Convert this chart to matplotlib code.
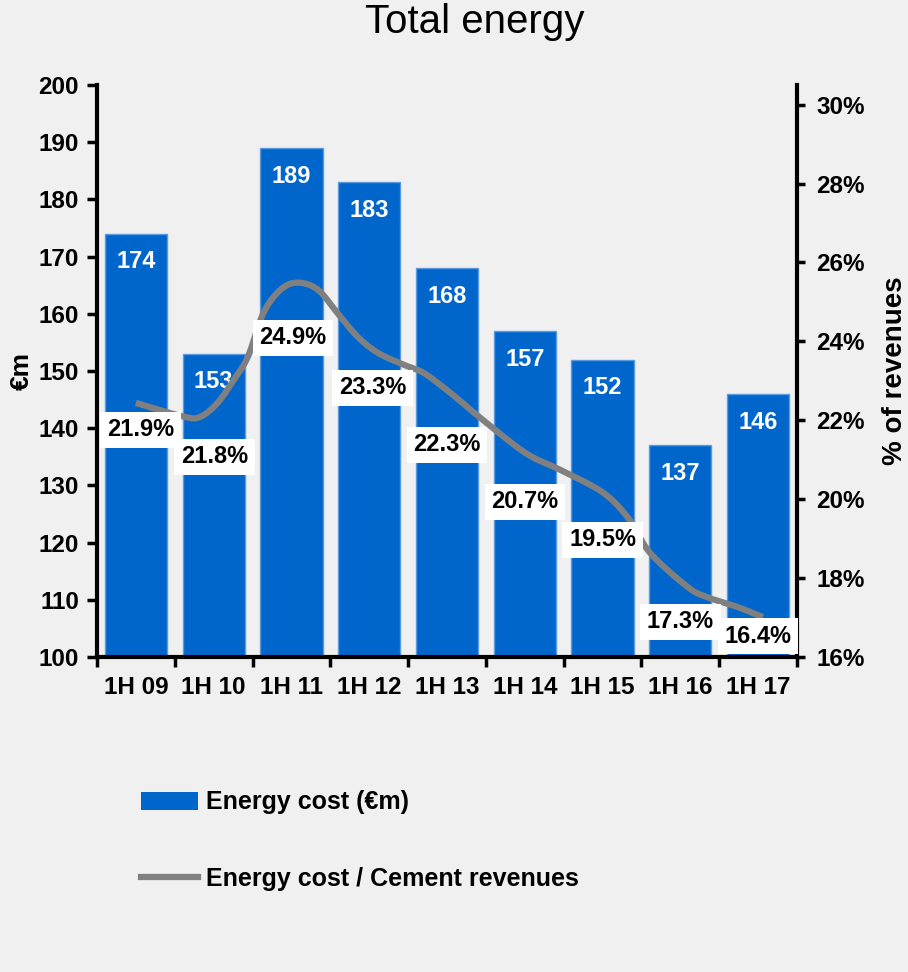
import numpy as np
import matplotlib.pyplot as plt
from matplotlib.patches import Patch
from matplotlib.lines import Line2D

plt.rcParams['font.family'] = ['Liberation Sans', 'DejaVu Sans']

# data
periods = ["1H 09", "1H 10", "1H 11", "1H 12", "1H 13", "1H 14", "1H 15", "1H 16", "1H 17"]
energy_cost = [174, 153, 189, 183, 168, 157, 152, 137, 146]
ratio_labels = ["21.9%", "21.8%", "24.9%", "23.3%", "22.3%", "20.7%", "19.5%", "17.3%", "16.4%"]

# smoothed ratio line (category position, % of revenues)
line_pos = [0.0, 0.62, 0.83, 1.05, 1.26, 1.44, 1.64, 1.86, 2.08, 2.34, 2.59, 2.85, 3.11,
            3.44, 3.70, 4.04, 4.43, 5.01, 5.46, 6.01, 6.35, 6.61, 7.09, 7.34, 7.73, 8.06]
line_pct = [22.44, 22.09, 22.09, 22.44, 23.03, 23.61, 24.72, 25.31, 25.49, 25.31, 24.72, 24.12, 23.71,
            23.41, 23.20, 22.70, 22.06, 21.17, 20.74, 20.16, 19.47, 18.64, 17.78, 17.52, 17.27, 17.01]

# where the ratio labels sit (layout only)
label_x = [0.06, 1.01, 2.02, 3.04, 4.0, 5.0, 6.0, 7.0, 8.0]
label_y = [21.76, 21.07, 24.09, 22.82, 21.38, 19.93, 18.97, 16.89, 16.53]

BLUE = "#0066CC"
GREY = "#808080"
BG = "#F0F0F0"


def catmull_rom(x, y, n=20):
    p = np.column_stack([x, y])
    p = np.vstack([p[0], p, p[-1]])
    out = []
    t = np.linspace(0, 1, n, endpoint=False)[:, None]
    for i in range(1, len(p) - 2):
        p0, p1, p2, p3 = p[i - 1], p[i], p[i + 1], p[i + 2]
        out.append(0.5 * (2 * p1 + (-p0 + p2) * t + (2 * p0 - 5 * p1 + 4 * p2 - p3) * t ** 2
                          + (-p0 + 3 * p1 - 3 * p2 + p3) * t ** 3))
    out.append(p[-2][None])
    s = np.vstack(out)
    return s[:, 0], s[:, 1]


fig = plt.figure(figsize=(9.08, 9.72), dpi=100, facecolor=BG)
ax = fig.add_axes([0.1068, 0.3241, 0.771, 0.5885])
ax.set_facecolor(BG)

x = np.arange(len(periods))
ax.bar(x, energy_cost, width=0.8, color=BLUE, edgecolor="#5B9BE0", linewidth=1.0, zorder=2)
for xi, v in zip(x, energy_cost):
    ax.annotate(str(v), (xi, v), xytext=(0, -12), textcoords="offset points",
                ha="center", va="top", color="white", fontsize=17, fontweight="bold", zorder=3)

ax.set_xlim(-0.5, len(periods) - 0.5)
ax.set_ylim(100, 200)
ax.set_yticks(np.arange(100, 201, 10))
ax.set_xticks(np.arange(-0.5, len(periods), 1))
ax.set_xticklabels([])
ax.set_xticks(x, minor=True)
ax.set_xticklabels(periods, minor=True)
ax.tick_params(axis="x", which="minor", length=0, pad=14, labelsize=17.5)
ax.tick_params(axis="x", which="major", length=7, width=2.5, direction="out")
ax.tick_params(axis="y", length=7, width=2.5, direction="out", labelsize=17.5, pad=6)
for lab in ax.get_xticklabels(minor=True) + ax.get_yticklabels():
    lab.set_fontweight("bold")
ax.set_ylabel("€m", fontsize=19, fontweight="bold", labelpad=0)
ax.yaxis.set_label_coords(-0.09, 0.5)
for side in ["top", "right"]:
    ax.spines[side].set_visible(False)
for side in ["left", "bottom"]:
    ax.spines[side].set_linewidth(3)

ax2 = ax.twinx()
ax2.set_ylim(16, 30.5)
ax2.set_yticks(np.arange(16, 31, 2))
ax2.set_yticklabels([f"{v}%" for v in range(16, 31, 2)])
ax2.tick_params(axis="y", length=6, width=2.5, direction="out", labelsize=17.5, pad=8)
for lab in ax2.get_yticklabels():
    lab.set_fontweight("bold")
for side in ["top", "left", "bottom"]:
    ax2.spines[side].set_visible(False)
ax2.spines["right"].set_linewidth(3)
ax2.set_ylabel("% of revenues", fontsize=20, fontweight="bold", labelpad=0)
ax2.yaxis.set_label_coords(1.122, 0.5)

sx, sy = catmull_rom(line_pos, line_pct)
ax2.plot(sx, sy, color=GREY, linewidth=4.5, solid_capstyle="butt", zorder=3)
for lx, ly, t in zip(label_x, label_y, ratio_labels):
    ax2.text(lx, ly, t, ha="center", va="center", fontsize=17, fontweight="bold", color="black",
             bbox=dict(boxstyle="square,pad=0.28", facecolor="white", edgecolor="none"), zorder=4)

fig.text(0.523, 0.977, "Total energy", ha="center", va="center", fontsize=29)

handles = [Patch(facecolor=BLUE, edgecolor="none"),
           Line2D([], [], color=GREY, linewidth=4.5)]
fig.legend(handles, ["Energy cost (€m)", "Energy cost / Cement revenues"],
           loc="upper left", bbox_to_anchor=(0.13, 0.21), frameon=False,
           prop=dict(size=18, weight="bold"), handlelength=2.3, handleheight=0.75,
           labelspacing=2.1, handletextpad=0.3)

fig.savefig("out.png", dpi=100, facecolor=BG)
